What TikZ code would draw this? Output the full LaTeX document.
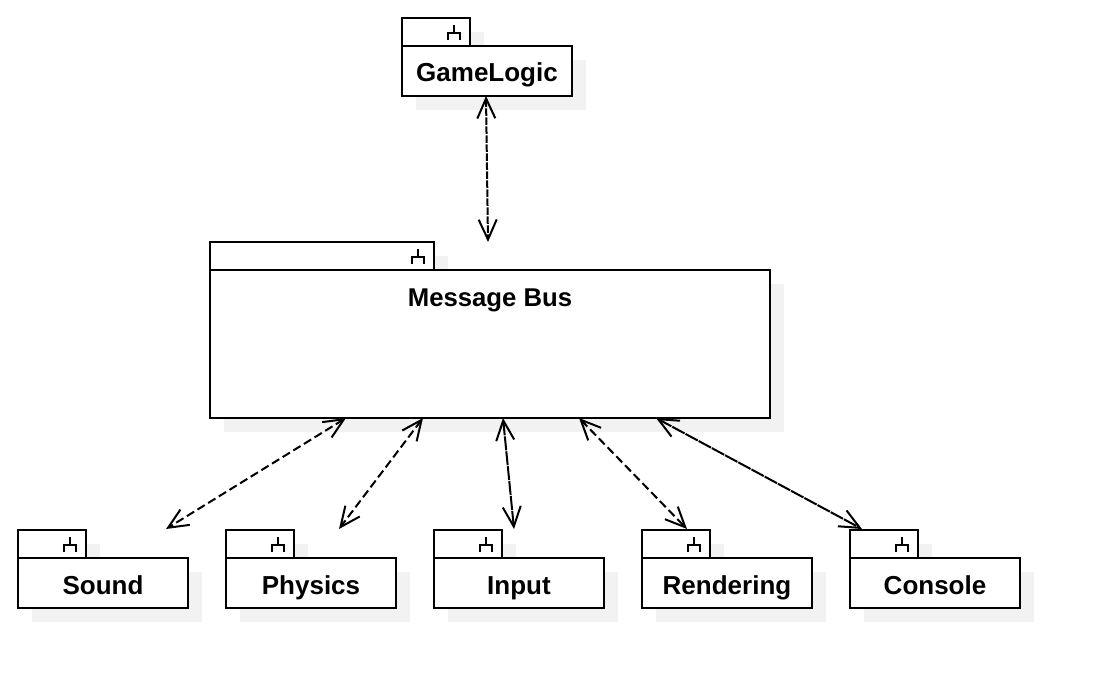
\documentclass[tikz,border=0pt]{standalone}
\usepackage{fontspec}
\setmainfont{Liberation Sans}
\usetikzlibrary{arrows.meta,calc}
\definecolor{shadowgrey}{HTML}{F2F2F2}
\tikzset{
  x=1pt,y=-1pt,
  shadowbox/.style={fill=shadowgrey,draw=none},
  pkgbody/.style={draw=black,line width=2pt,fill=white,rectangle,inner sep=0pt,outer sep=0pt,minimum width=170pt,minimum height=50pt,anchor=north west,text height=24pt,text depth=2pt,font=\bfseries\fontsize{26}{30}\selectfont},
  pkgtab/.style={draw=black,line width=2pt,fill=white,rectangle,inner sep=0pt,outer sep=0pt,minimum width=68pt,minimum height=28pt,anchor=north west},
  forkicon/.style={draw=black,line width=1.6pt},
  busarrow/.style={draw=black,line width=2pt,{Straight Barb[length=20pt,width=18pt,line width=2pt]}-{Straight Barb[length=20pt,width=18pt,line width=2pt]}},
  longdash/.style={dash pattern=on 8.5pt off 4pt},
  tightdash/.style={dash pattern=on 7.5pt off 1.5pt},
  neardash/.style={dash pattern=on 14pt off 1pt},
}
\newcommand{\pkg}[4]{% name, x, y, label
  \fill[shadowbox] (#2+14,#3+14) rectangle (#2+82,#3+42);
  \fill[shadowbox] (#2+14,#3+42) rectangle (#2+184,#3+92);
  \node[pkgtab] (#1tab) at (#2,#3) {};
  \node[pkgbody] (#1) at (#2,#3+28) {#4};
  \draw[forkicon] ($(#1tab.north east)+(-16,7)$) -- ++(0,8);
  \draw[forkicon] ($(#1tab.north east)+(-22,22)$) -- ++(0,-7) -- ++(12,0) -- ++(0,7);
}
\begin{document}
\begin{tikzpicture}
\useasboundingbox (0,0) rectangle (1102,690);
\fill[white] (0,0) rectangle (1102,690);
\pkg{gamelogic}{402}{18}{GameLogic}
\pkg{sound}{18}{530}{Sound}
\pkg{physics}{226}{530}{Physics}
\pkg{input}{434}{530}{Input}
\pkg{rendering}{642}{530}{Rendering}
\pkg{console}{850}{530}{Console}
% Message Bus
\fill[shadowbox] (224,256) rectangle (448,284);
\fill[shadowbox] (224,284) rectangle (784,432);
\node[pkgtab,minimum width=224pt] (bustab) at (210,242) {};
\node[pkgbody,minimum width=560pt,minimum height=148pt] (bus) at (210,270) {};
\node[font=\bfseries\fontsize{25.7}{30}\selectfont,anchor=base] (buslabel) at (490,306) {Message Bus};
\draw[forkicon] ($(bustab.north east)+(-16,7)$) -- ++(0,8);
\draw[forkicon] ($(bustab.north east)+(-22,22)$) -- ++(0,-7) -- ++(12,0) -- ++(0,7);
% connectors
\draw[busarrow,tightdash] ($(gamelogic.south west)+(84,0)$) -- ($(bustab.north west)+(278,0)$);
\draw[busarrow,longdash] ($(bus.south west)+(136,0)$) -- ($(soundtab.north east)+(80,-1)$);
\draw[busarrow,longdash] ($(bus.south west)+(213,0)$) -- ($(physicstab.north east)+(45,-1)$);
\draw[busarrow,neardash] ($(bus.south west)+(293,0)$) -- ($(inputtab.north east)+(12,-1)$);
\draw[busarrow,longdash] ($(bus.south west)+(369,0)$) -- ($(renderingtab.north east)+(-23,-1)$);
\draw[busarrow,neardash] ($(bus.south west)+(446,0)$) -- ($(consoletab.north east)+(-56,-1)$);
\end{tikzpicture}
\end{document}
